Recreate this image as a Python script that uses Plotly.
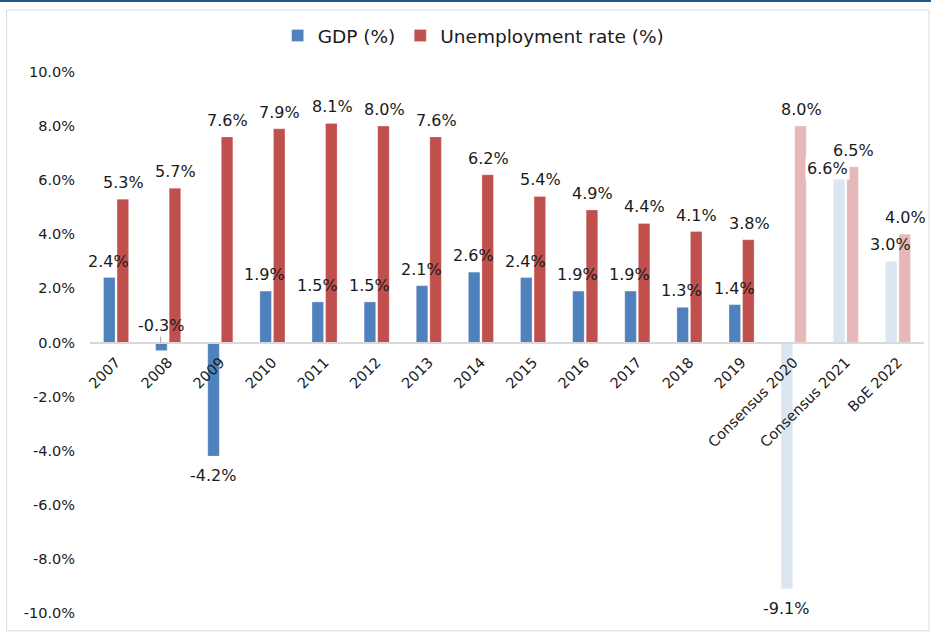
import plotly.graph_objects as go

categories = ["2007", "2008", "2009", "2010", "2011", "2012", "2013", "2014", "2015",
              "2016", "2017", "2018", "2019", "Consensus 2020", "Consensus 2021", "BoE 2022"]
gdp = [2.4, -0.3, -4.2, 1.9, 1.5, 1.5, 2.1, 2.6, 2.4, 1.9, 1.9, 1.3, 1.4, -9.1, 6.6, 3.0]
unemp = [5.3, 5.7, 7.6, 7.9, 8.1, 8.0, 7.6, 6.2, 5.4, 4.9, 4.4, 4.1, 3.8, 8.0, 6.5, 4.0]
forecast = [False] * 13 + [True] * 3
y_ticks = [-10, -8, -6, -4, -2, 0, 2, 4, 6, 8, 10]

BLUE, BLUE_L = "#4F81BD", "#DCE6F2"
RED, RED_L = "#C0504D", "#E6B9B8"
FONT = "Verdana, DejaVu Sans, sans-serif"
LBL = 16

fig = go.Figure()
fig.add_trace(go.Bar(
    x=categories, y=gdp, name="GDP (%)",
    marker=dict(color=[BLUE_L if f else BLUE for f in forecast],
                line=dict(color="rgba(255,255,255,0.5)", width=0.5)),
))
fig.add_trace(go.Bar(
    x=categories, y=unemp, name="Unemployment rate (%)",
    marker=dict(color=[RED_L if f else RED for f in forecast],
                line=dict(color="rgba(255,255,255,0.5)", width=0.5)),
))

ann = []
BAR_OFF = 7.5
for i, (c, v) in enumerate(zip(categories, gdp)):
    txt = f"{v:.1f}%"
    if v < 0 and abs(v) < 1:
        ann.append(dict(x=i, y=0, xshift=-BAR_OFF, text=txt, showarrow=True, arrowhead=0,
                        arrowcolor="#A6A6A6", arrowwidth=1, ax=0, ay=-17, standoff=0))
    elif v < 0:
        ann.append(dict(x=i, y=v, xshift=-BAR_OFF, yshift=-8, text=txt, showarrow=False,
                        yanchor="top"))
    elif c == "Consensus 2021":
        ann.append(dict(x=i, y=v, xshift=-BAR_OFF - 11, yshift=-5, text=txt, showarrow=False,
                        yanchor="middle", bgcolor="white"))
    else:
        ann.append(dict(x=i, y=v, xshift=-BAR_OFF, yshift=5, text=txt, showarrow=False,
                        yanchor="bottom"))
for i, v in enumerate(unemp):
    ann.append(dict(x=i, y=v, xshift=BAR_OFF, yshift=5, text=f"{v:.1f}%", showarrow=False,
                    yanchor="bottom"))
for a in ann:
    a["font"] = dict(family=FONT, size=LBL, color="#1a1a1a")
    a["xref"] = "x"
    a["yref"] = "y"

fig.update_layout(
    width=931, height=633,
    margin=dict(l=90, r=7, t=72, b=20),
    paper_bgcolor="white", plot_bgcolor="white",
    barmode="group", bargap=0.48, bargroupgap=0.15,
    font=dict(family=FONT, size=14, color="#1a1a1a"),
    showlegend=True,
    legend=dict(orientation="h", x=0.46, xanchor="center", y=1.0665, yanchor="middle",
                font=dict(family=FONT, size=18.5, color="#1a1a1a"), itemwidth=30,
                traceorder="normal"),
    annotations=ann,
    xaxis=dict(type="category", range=[-0.5, len(categories) - 0.5],
               anchor="free", position=0.5, tickangle=-45, ticklabelstandoff=5,
               showline=True, linecolor="#D9D9D9", linewidth=1.5, ticks="",
               tickfont=dict(family=FONT, size=14.5, color="#1a1a1a"), showgrid=False),
    yaxis=dict(range=[-10, 10], tickvals=y_ticks,
               ticktext=[f"{t:.1f}%" for t in y_ticks], showgrid=False,
               zeroline=False, showline=False, ticks="", ticklabelstandoff=14,
               tickfont=dict(family=FONT, size=14.5, color="#1a1a1a")),
    shapes=[
        dict(type="rect", xref="paper", yref="paper", x0=-0.1, x1=1.006, y0=-0.033, y1=1.1146,
             line=dict(color="#D9D9D9", width=1), fillcolor="rgba(0,0,0,0)", layer="below"),
        dict(type="rect", xref="paper", yref="paper", x0=-0.12, x1=1.02, y0=1.1294, y1=1.14,
             line=dict(width=0), fillcolor="#1F5A88"),
    ],
)

fig.write_html("out.html", config={"displayModeBar": False},
               post_script="document.body.style.margin='0';")
